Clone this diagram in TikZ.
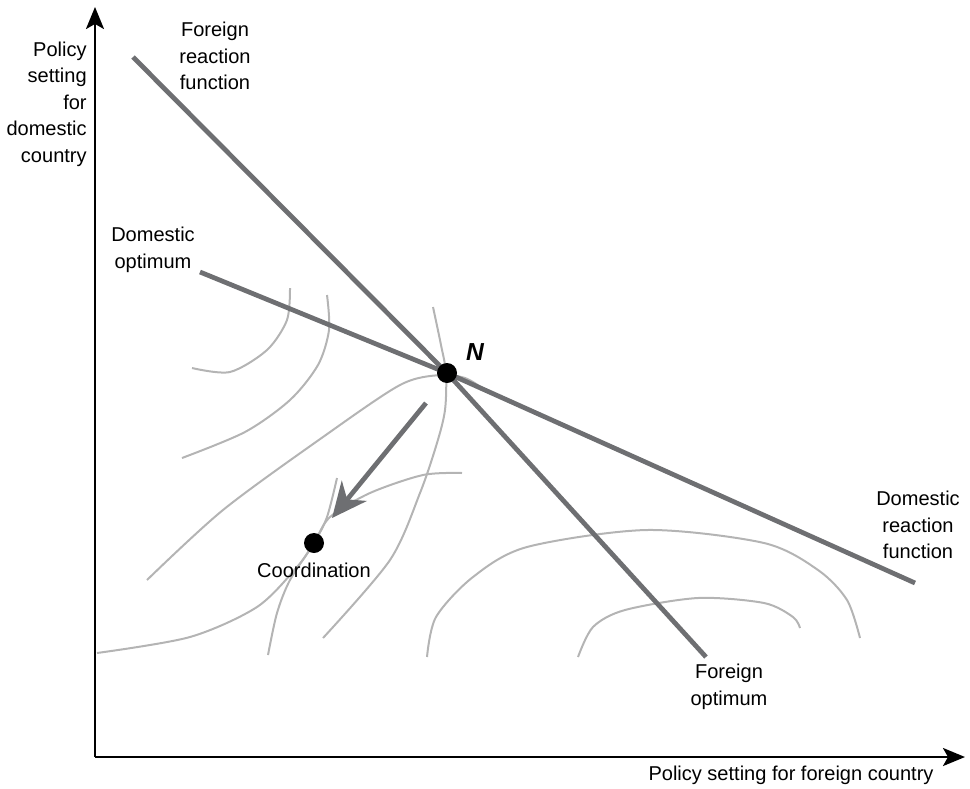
\documentclass[tikz,border=0pt]{standalone}
\usepackage{fontspec}
\setmainfont{Liberation Sans}
\usetikzlibrary{arrows.meta}

\definecolor{darkline}{RGB}{110,111,114}
\definecolor{lightline}{RGB}{180,180,180}

\tikzset{
  axis/.style={line width=0.5mm, -{Stealth[length=4.4mm,width=3.6mm,inset=1mm]}},
  reaction/.style={darkline, line width=0.95mm},
  indiff/.style={lightline, line width=0.4mm},
  lbl/.style={align=center, inner sep=0pt, font=\fontsize{11.4}{15.1}\selectfont},
}

\begin{document}
\begin{tikzpicture}[x=0.02cm, y=-0.02cm]
        \useasboundingbox (0,0) rectangle (970,788);

        \coordinate (O) at (95,757);
        \coordinate (Y) at (95,7);
        \coordinate (X) at (965,757);
        \coordinate (N) at (447,373);
        \coordinate (C) at (314,543);
        \coordinate (FA) at (133,57);
        \coordinate (FB) at (706,657);
        \coordinate (DA) at (200,272);
        \coordinate (DB) at (915,583);
        \coordinate (S) at (426,403);
        \coordinate (T) at (332,518);

        \draw[indiff] plot[smooth] coordinates {(290,288) (287,320) (267,350) (230,372) (192,368)};
        \draw[indiff] plot[smooth] coordinates {(327,295) (329,330) (318,365) (290,400) (245,432) (182,458)};
        \draw[indiff] plot[smooth] coordinates {(147,580) (223,510) (323,437) (400,385) (440,375) (465,378) (482,388)};
        \draw[indiff] plot[smooth] coordinates {(433,307) (441,345) (446,373) (445,410) (437,443) (420,493) (390,560) (323,638)};
        \draw[indiff] plot[smooth] coordinates {(97,653) (190,637) (257,607) (297,567) (314,543) (330,517) (370,493) (423,475) (462,473)};
        \draw[indiff] plot[smooth] coordinates {(337,478) (327,517) (314,543) (290,580) (277,613) (268,655)};
        \draw[indiff] plot[smooth] coordinates {(427,657) (436,617) (473,577) (527,547) (647,530) (764,543) (818,570) (847,600) (860,638)};
        \draw[indiff] plot[smooth] coordinates {(578,657) (593,627) (625,610) (698,598) (764,603) (793,617) (800,628)};

        \draw[reaction] (FA) -- (N) -- (FB);
        \draw[reaction] (DA) -- (N) -- (DB);
        \draw[reaction, -{Stealth[length=7mm,width=6.4mm,inset=2.2mm]}] (S) -- (T);

        \draw[axis] (O) -- (Y);
        \draw[axis] (O) -- (X);

        \foreach \n in {N, C}
        \node at (\n)[circle,fill,inner sep=0pt,minimum size=4mm]{};

        \node[lbl, align=right, anchor=east] (ylabel) at (87,104) {Policy\\setting\\for\\domestic\\country};
        \node[lbl] (xlabel) at (791,775) {Policy setting for foreign country};
        \node[lbl] (freact) at (215,56) {Foreign\\reaction\\function};
        \node[lbl] (dopt) at (153,250) {Domestic\\optimum};
        \node[lbl] (dreact) at (918,525) {Domestic\\reaction\\function};
        \node[lbl] (fopt) at (729,687) {Foreign\\optimum};
        \node[lbl] (coord) at (314,570) {Coordination};
        \node[inner sep=0pt, font=\fontsize{14}{16}\selectfont\bfseries\itshape] (nlabel) at (475,352) {N};
    \end{tikzpicture}
\end{document}
